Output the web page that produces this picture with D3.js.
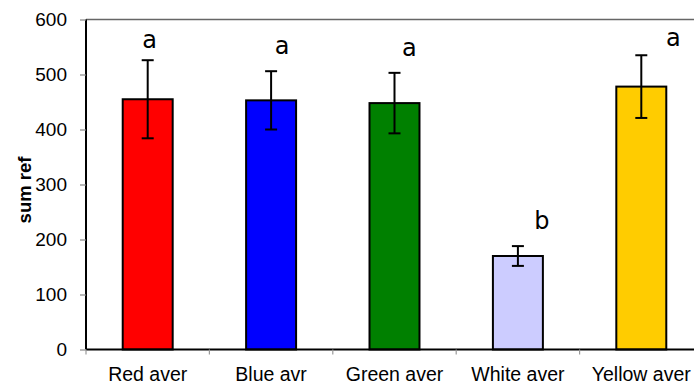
<!DOCTYPE html>
<html>
<head>
<meta charset="utf-8">
<script src="https://cdn.jsdelivr.net/npm/d3@7"></script>
<style>
  html, body { margin: 0; padding: 0; background: #fff; }
  svg { display: block; }
</style>
</head>
<body>
<svg id="chart" width="694" height="385"></svg>
<script>
// ---- data ----
const categories = ["Red aver", "Blue avr", "Green aver", "White aver", "Yellow aver"];
const means = [455, 453, 448, 170, 478];
const errors = [71, 53, 55, 18, 57];
const barColors = ["#FF0000", "#0000FF", "#008000", "#CCCCFF", "#FFCC00"];
const letters = ["a", "a", "a", "b", "a"];
const letterValues = [548, 537, 534, 219, 552];       // baseline height in y units
const letterOffsets = [0.016, 0.09, 0.12, 0.195, 0.26]; // shift from band centre, in band widths
const yTicks = [0, 100, 200, 300, 400, 500, 600];
const yLabel = "sum ref";

// ---- layout ----
const svg = d3.select("#chart");
const mLeft = 86, mTop = 19.5, mBottom = 349.5, bandW = 123.4;
const rightEdge = 694;

const x = d3.scaleBand()
  .domain(categories)
  .range([mLeft, mLeft + bandW * categories.length])
  .paddingInner(0).paddingOuter(0);
const y = d3.scaleLinear().domain([0, 600]).range([mBottom, mTop]);

// top border of plot area
svg.append("line")
  .attr("x1", mLeft).attr("x2", rightEdge)
  .attr("y1", y(600)).attr("y2", y(600))
  .attr("stroke", "#666").attr("stroke-width", 1.5);

// bars
const barW = x.bandwidth() * 0.405;
svg.selectAll("rect.bar").data(categories).enter().append("rect")
  .attr("class", "bar")
  .attr("x", (d) => x(d) + x.bandwidth() / 2 - barW / 2)
  .attr("y", (d, i) => y(means[i]))
  .attr("width", barW)
  .attr("height", (d, i) => y(0) - y(means[i]))
  .attr("fill", (d, i) => barColors[i])
  .attr("stroke", "#000").attr("stroke-width", 2);

// error bars
const capW = 12;
const cx = (d) => x(d) + x.bandwidth() / 2;
const eb = svg.selectAll("g.err").data(categories).enter().append("g").attr("class", "err");
eb.append("line")
  .attr("x1", cx).attr("x2", cx)
  .attr("y1", (d, i) => y(means[i] + errors[i])).attr("y2", (d, i) => y(means[i] - errors[i]))
  .attr("stroke", "#000").attr("stroke-width", 2);
eb.append("line")
  .attr("x1", (d) => cx(d) - capW / 2).attr("x2", (d) => cx(d) + capW / 2)
  .attr("y1", (d, i) => y(means[i] + errors[i])).attr("y2", (d, i) => y(means[i] + errors[i]))
  .attr("stroke", "#000").attr("stroke-width", 2);
eb.append("line")
  .attr("x1", (d) => cx(d) - capW / 2).attr("x2", (d) => cx(d) + capW / 2)
  .attr("y1", (d, i) => y(means[i] - errors[i])).attr("y2", (d, i) => y(means[i] - errors[i]))
  .attr("stroke", "#000").attr("stroke-width", 2);

// significance letters
svg.selectAll("text.sig").data(categories).enter().append("text")
  .attr("class", "sig")
  .attr("x", (d, i) => cx(d) + letterOffsets[i] * x.bandwidth())
  .attr("y", (d, i) => y(letterValues[i]))
  .attr("text-anchor", "middle")
  .attr("font-family", "DejaVu Sans, sans-serif")
  .attr("font-size", 24)
  .attr("fill", "#000")
  .text((d, i) => letters[i]);

// y axis
const yAxis = d3.axisLeft(y).tickValues(yTicks).tickSize(6).tickPadding(13).tickFormat(d3.format("d"));
const gy = svg.append("g").attr("transform", `translate(${mLeft},0)`).call(yAxis);
gy.select(".domain").attr("stroke", "#000").attr("stroke-width", 2).attr("d", `M0,${mTop}V${mBottom}`);
gy.selectAll(".tick line").attr("stroke", "#888").attr("stroke-width", 1.2);
gy.selectAll(".tick text")
  .attr("font-family", "Liberation Sans, Arial, sans-serif")
  .attr("font-size", 19).attr("fill", "#000");

// x axis line
svg.append("line")
  .attr("x1", mLeft).attr("x2", rightEdge)
  .attr("y1", y(0)).attr("y2", y(0))
  .attr("stroke", "#000").attr("stroke-width", 2);

// x axis ticks between categories
svg.selectAll("line.xtick").data(categories).enter().append("line")
  .attr("class", "xtick")
  .attr("x1", (d) => x(d)).attr("x2", (d) => x(d))
  .attr("y1", y(0)).attr("y2", y(0) + 5)
  .attr("stroke", "#999").attr("stroke-width", 1.2);

// category labels
svg.selectAll("text.cat").data(categories).enter().append("text")
  .attr("class", "cat")
  .attr("x", cx)
  .attr("y", 381)
  .attr("text-anchor", "middle")
  .attr("font-family", "Liberation Sans, Arial, sans-serif")
  .attr("font-size", 19.5)
  .attr("fill", "#000")
  .text((d) => d);

// y axis title
svg.append("text")
  .attr("transform", `translate(30.5,190) rotate(-90)`)
  .attr("text-anchor", "middle")
  .attr("font-family", "Liberation Sans, Arial, sans-serif")
  .attr("font-weight", "bold")
  .attr("font-size", 18.5)
  .attr("fill", "#000")
  .text(yLabel);
</script>
</body>
</html>
